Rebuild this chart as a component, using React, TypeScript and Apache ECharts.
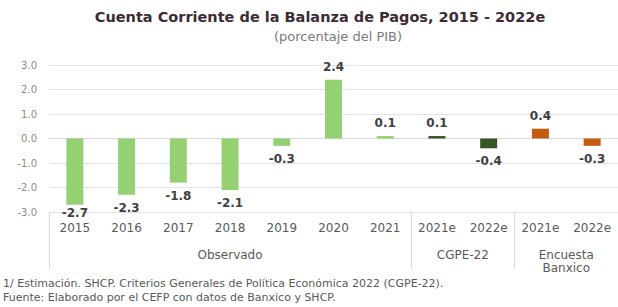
import React, { useEffect, useRef } from "react";
import * as echarts from "echarts";

const categories = ["2015", "2016", "2017", "2018", "2019", "2020", "2021", "2021e", "2022e", "2021e", "2022e"];
const values = [-2.7, -2.3, -1.8, -2.1, -0.3, 2.4, 0.1, 0.1, -0.4, 0.4, -0.3];
const groupNames = ["Observado", "CGPE-22", "Encuesta\nBanxico"];
const groupSizes = [7, 2, 2];
const groupColors = ["#95d173", "#375623", "#c55a11"];
const yTicks = [-3, -2, -1, 0, 1, 2, 3];
const titleText = "Cuenta Corriente de la Balanza de Pagos, 2015 - 2022e";
const subtitleText = "(porcentaje del PIB)";
const footnotes = [
  "1/ Estimación. SHCP. Criterios Generales de Política Económica 2022 (CGPE-22).",
  "Fuente: Elaborado por el CEFP con datos de Banxico y SHCP.",
];

const FONT = "DejaVu Sans";

export default function App() {
  const ref = useRef<HTMLDivElement>(null);
  useEffect(() => {
    if (!ref.current) return;
    const chart = echarts.init(ref.current, null, { renderer: "svg" });

    const groupOfIndex: number[] = [];
    const groupCenters: number[] = [];
    const groupBounds: number[] = [-0.5];
    let start = 0;
    groupSizes.forEach((s, g) => {
      for (let i = 0; i < s; i++) groupOfIndex.push(g);
      groupCenters.push(start + (s - 1) / 2);
      start += s;
      groupBounds.push(start - 0.5);
    });

    const data = values.map((v, i) => ({
      value: v,
      itemStyle: { color: groupColors[groupOfIndex[i]] },
      label: {
        position: v < 0 ? "bottom" : "top",
        distance: i === 0 ? 2 : 7,
      },
    }));

    chart.setOption({
      animation: false,
      backgroundColor: "#ffffff",
      textStyle: { fontFamily: FONT },
      grid: { left: 49, right: -9, top: 65, height: 147, containLabel: false },
      xAxis: [
        {
          type: "category",
          data: categories,
          position: "bottom",
          axisLine: { show: true, lineStyle: { color: "#d9d9d9", width: 1 } },
          axisTick: { show: false },
          axisLabel: { color: "#595959", fontSize: 12, margin: 10, fontFamily: FONT, interval: 0 },
        },
        {
          type: "value",
          position: "bottom",
          min: -0.5,
          max: categories.length - 0.5,
          splitLine: { show: false },
          axisLine: { show: false },
          axisTick: {
            show: true,
            customValues: groupBounds,
            length: 57,
            inside: false,
            lineStyle: { color: "#d9d9d9", width: 1 },
          },
          axisLabel: {
            show: true,
            customValues: groupCenters,
            formatter: (v: number) => groupNames[groupCenters.indexOf(v)] ?? "",
            color: "#595959",
            fontSize: 12,
            lineHeight: 13,
            margin: 36,
            fontFamily: FONT,
          },
        },
      ],
      yAxis: {
        type: "value",
        min: yTicks[0],
        max: yTicks[yTicks.length - 1],
        interval: 1,
        axisLine: { show: false },
        axisTick: { show: false },
        splitLine: { show: true, lineStyle: { color: "#e3e3e3", width: 1 } },
        axisLabel: {
          color: "#8c8c8c",
          fontSize: 10,
          margin: 12,
          fontFamily: FONT,
          formatter: (v: number) => v.toFixed(1),
        },
      },
      series: [
        {
          type: "bar",
          xAxisIndex: 0,
          barWidth: 17,
          data,
          label: {
            show: true,
            color: "#404040",
            fontWeight: "bold",
            fontSize: 12,
            fontFamily: FONT,
            formatter: (p: any) => Number(p.value).toFixed(1),
          },
        },
      ],
      graphic: [
        {
          type: "text",
          x: 320,
          y: 17,
          style: {
            text: titleText,
            fill: "#3d2b35",
            font: `bold 14.5px "${FONT}"`,
            textAlign: "center",
            textVerticalAlign: "middle",
          },
        },
        {
          type: "text",
          x: 338,
          y: 36,
          style: {
            text: subtitleText,
            fill: "#7a7a7a",
            font: `13px "${FONT}"`,
            textAlign: "center",
            textVerticalAlign: "middle",
          },
        },
        ...footnotes.map((t, i) => ({
          type: "text",
          x: 3,
          y: 283 + i * 14,
          style: {
            text: t,
            fill: "#595959",
            font: `11px "${FONT}"`,
            textAlign: "left",
            textVerticalAlign: "middle",
          },
        })),
      ],
    });

    return () => chart.dispose();
  }, []);

  return (
    <div
      ref={ref}
      style={{ position: "absolute", left: 0, top: 0, width: 618, height: 307, background: "#fff" }}
    />
  );
}
